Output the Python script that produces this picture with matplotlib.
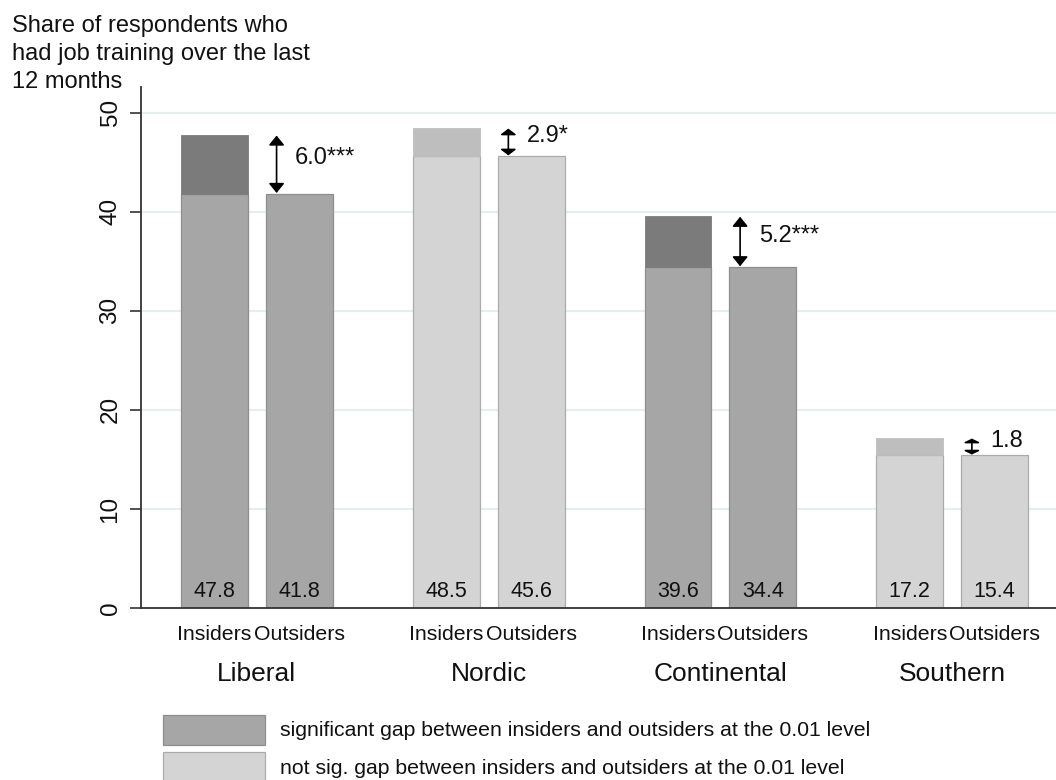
import matplotlib
matplotlib.use("Agg")
import matplotlib.pyplot as plt
from matplotlib.patches import Rectangle
from matplotlib.transforms import blended_transform_factory

plt.rcParams['font.family'] = ['Liberation Sans', 'DejaVu Sans']

# Data: share of respondents with job training in the last 12 months
regimes = ["Liberal", "Nordic", "Continental", "Southern"]
insiders = [47.8, 48.5, 39.6, 17.2]
outsiders = [41.8, 45.6, 34.4, 15.4]
gap_labels = ["6.0***", "2.9*", "5.2***", "1.8"]
significant = [True, False, True, False]
bar_names = ["Insiders", "Outsiders"]
yticks = [0, 10, 20, 30, 40, 50]
ylabel_text = "Share of respondents who\nhad job training over the last\n12 months"
legend_labels = ["significant gap between insiders and outsiders at the 0.01 level",
                 "not sig. gap between insiders and outsiders at the 0.01 level"]

# Styling
SIG_BASE, SIG_TOP, SIG_EDGE = "#a6a6a6", "#7b7b7b", "#8e8e8e"
NS_BASE, NS_TOP, NS_EDGE = "#d4d4d4", "#bebebe", "#acacac"
GRID = "#e6efef"
TXT = "#111111"

W, H = 1056, 780
fig = plt.figure(figsize=(W / 100, H / 100), dpi=100)
ax = fig.add_axes([141 / W, 1 - 608 / H, (W - 141) / W, (608 - 87) / H])

bw = 0.289
off = 0.183
PX_PER_UNIT = 9.9  # vertical pixels per percentage point
PT = 0.72          # points per pixel at 100 dpi

xt, xl = [], []
for g, (ins, out, sig) in enumerate(zip(insiders, outsiders, significant)):
    base, top, edge = (SIG_BASE, SIG_TOP, SIG_EDGE) if sig else (NS_BASE, NS_TOP, NS_EDGE)
    xi, xo = g - off, g + off
    # insiders: common part plus the gap segment on top
    ax.bar(xi, out, width=bw, color=base, edgecolor=edge, linewidth=0.9, zorder=2)
    ax.bar(xi, ins - out, bottom=out, width=bw, color=top, edgecolor=top,
           linewidth=0.6, zorder=2)
    ax.bar(xo, out, width=bw, color=base, edgecolor=edge, linewidth=0.9, zorder=2)
    # value labels near the bottom of each bar
    ax.text(xi, 1.7, f"{ins:.1f}", ha="center", va="center", fontsize=15.5, color=TXT, zorder=3)
    ax.text(xo, 1.7, f"{out:.1f}", ha="center", va="center", fontsize=15.5, color=TXT, zorder=3)
    # double-headed arrow marking the gap; short gaps get flatter heads
    gap_px = (ins - out) * PX_PER_UNIT
    hl = min(8.0, gap_px * 0.17) * PT
    hw = 6.5 * PT
    ax.annotate("", xy=(g + 0.085, ins - 0.1), xytext=(g + 0.085, out + 0.1),
                arrowprops=dict(arrowstyle=f"<|-|>,head_length={hl:.2f},head_width={hw:.2f}",
                                mutation_scale=1, color="black", lw=1.2,
                                shrinkA=0, shrinkB=0), zorder=3)
    ax.text(g + 0.165, (ins + out) / 2, gap_labels[g], ha="left", va="baseline",
            fontsize=17, color=TXT)
    xt += [xi, xo]
    xl += bar_names

ax.set_xlim(-0.5, 3.448)
ax.set_ylim(0, 52.6)
ax.set_yticks(yticks)
ax.set_yticklabels([str(v) for v in yticks], rotation=90, va="center", fontsize=17.5, color=TXT)
ax.set_xticks(xt)
ax.set_xticklabels(xl, fontsize=15.3, color=TXT)
ax.tick_params(axis="x", length=0, pad=12)
ax.tick_params(axis="y", length=8, width=1.2, pad=6, color="#333333")
for v in yticks[1:]:
    ax.axhline(v, color=GRID, lw=1.6, zorder=0)
for s in ("top", "right"):
    ax.spines[s].set_visible(False)
for s in ("left", "bottom"):
    ax.spines[s].set_linewidth(1.3)
    ax.spines[s].set_color("#333333")

trans = blended_transform_factory(ax.transData, ax.transAxes)
for g, name in enumerate(regimes):
    ax.text(g, -0.127, name, transform=trans, ha="center", va="center", fontsize=19, color=TXT)

fig.text(12 / W, 1 - 15 / H, ylabel_text, ha="left", va="top", fontsize=17,
         color=TXT, linespacing=1.34)

# legend
for i, (lab, fc, ec) in enumerate(zip(legend_labels, [SIG_BASE, NS_BASE], [SIG_EDGE, NS_EDGE])):
    y0 = 715 + i * 37
    fig.add_artist(Rectangle((163 / W, 1 - (y0 + 30) / H), 102 / W, 30 / H,
                             transform=fig.transFigure, facecolor=fc, edgecolor=ec, lw=0.9))
    fig.text(280 / W, 1 - (y0 + 16) / H, lab, ha="left", va="center", fontsize=15.3,
             color=TXT)

fig.savefig("out.png", dpi=100)
